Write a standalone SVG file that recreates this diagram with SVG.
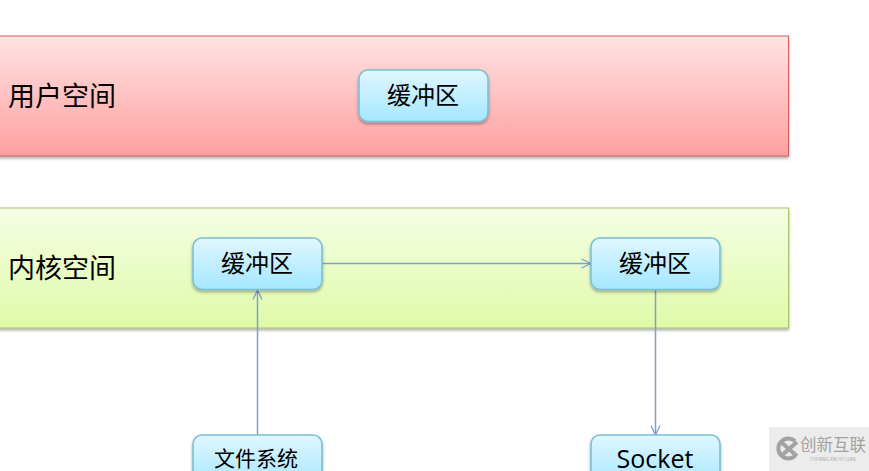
<svg xmlns="http://www.w3.org/2000/svg" width="869" height="471" viewBox="0 0 869 471">
<style>
text{font-family:"Noto Sans CJK SC","Liberation Sans",sans-serif;fill:#000;text-anchor:middle}
.band-label{font-size:27px}
.box-label{font-size:24px}
.box{stroke:#7cc0d4;stroke-width:1.6;fill:url(#boxFill);filter:url(#shadow)}
.conn{fill:none;stroke:#7f9fcc;stroke-width:1.5}
</style>
<defs>
<linearGradient id="redFill" x1="0" y1="0" x2="0" y2="1"><stop offset="0" stop-color="#ffe3e3"/><stop offset="1" stop-color="#ff9f9f"/></linearGradient>
<linearGradient id="greenFill" x1="0" y1="0" x2="0" y2="1"><stop offset="0" stop-color="#f6fee4"/><stop offset="1" stop-color="#defaa8"/></linearGradient>
<linearGradient id="boxFill" x1="0" y1="0" x2="0" y2="1"><stop offset="0" stop-color="#e0f7ff"/><stop offset="1" stop-color="#a4e7ff"/></linearGradient>
<filter id="shadow" x="-10%" y="-10%" width="120%" height="125%"><feDropShadow dx="0" dy="1.8" stdDeviation="1.4" flood-color="#000" flood-opacity="0.35"/></filter>
<marker id="open" markerWidth="12" markerHeight="12" refX="10.5" refY="6" orient="auto" markerUnits="userSpaceOnUse"><path d="M1 1.5L10.5 6L1 10.5" fill="none" stroke="#7f9fcc" stroke-width="1.3"/></marker>
</defs>
<g id="user-space">
<rect x="-5" y="36" width="793.500" height="120" fill="url(#redFill)" stroke="#cf6060" filter="url(#shadow)"/>
<text class="band-label" x="62" y="106">用户空间</text>
</g>
<g id="kernel-space">
<rect x="-5" y="208" width="793.500" height="120" fill="url(#greenFill)" stroke="#a6c468" filter="url(#shadow)"/>
<text class="band-label" x="62" y="278">内核空间</text>
</g>
<g id="connectors">
<path class="conn" d="M322 263.500H591" marker-end="url(#open)"/>
<path class="conn" d="M257.500 435V290" marker-end="url(#open)"/>
<path class="conn" d="M655.500 290V435" marker-end="url(#open)"/>
</g>
<g id="user-buffer">
<rect class="box" x="359" y="70" width="129" height="51.500" rx="9"/>
<text class="box-label" x="423" y="104">缓冲区</text>
</g>
<g id="kernel-buffer-left">
<rect class="box" x="193" y="238" width="129" height="51.500" rx="9"/>
<text class="box-label" x="257" y="272">缓冲区</text>
</g>
<g id="kernel-buffer-right">
<rect class="box" x="591" y="238" width="129" height="51.500" rx="9"/>
<text class="box-label" x="655" y="272">缓冲区</text>
</g>
<g id="file-system">
<rect class="box" x="193" y="435" width="129" height="51.500" rx="9"/>
<text x="256" y="466" style="font-size:21px">文件系统</text>
</g>
<g id="socket">
<rect class="box" x="591" y="435" width="129" height="51.500" rx="9"/>
<text x="655" y="468" style="font-size:25px;font-family:'Open Sans','Liberation Sans',sans-serif">Socket</text>
</g>
<g id="watermark">
<rect x="769" y="427" width="100" height="44" fill="#ececec"/>
<path d="M795 441A10 10 0 1 0 795 456" fill="none" stroke="#a2a2a2" stroke-width="4"/>
<path d="M781 442L797 456M797 442L781 456" stroke="#a2a2a2" stroke-width="4"/>
<text x="833" y="451" style="font-size:16.500px;fill:#a2a2a2">创新互联</text>
<text x="833" y="461" style="font-size:4.500px;fill:#a8a8a8">CHUANG XIN HU LIAN</text>
</g>
</svg>
